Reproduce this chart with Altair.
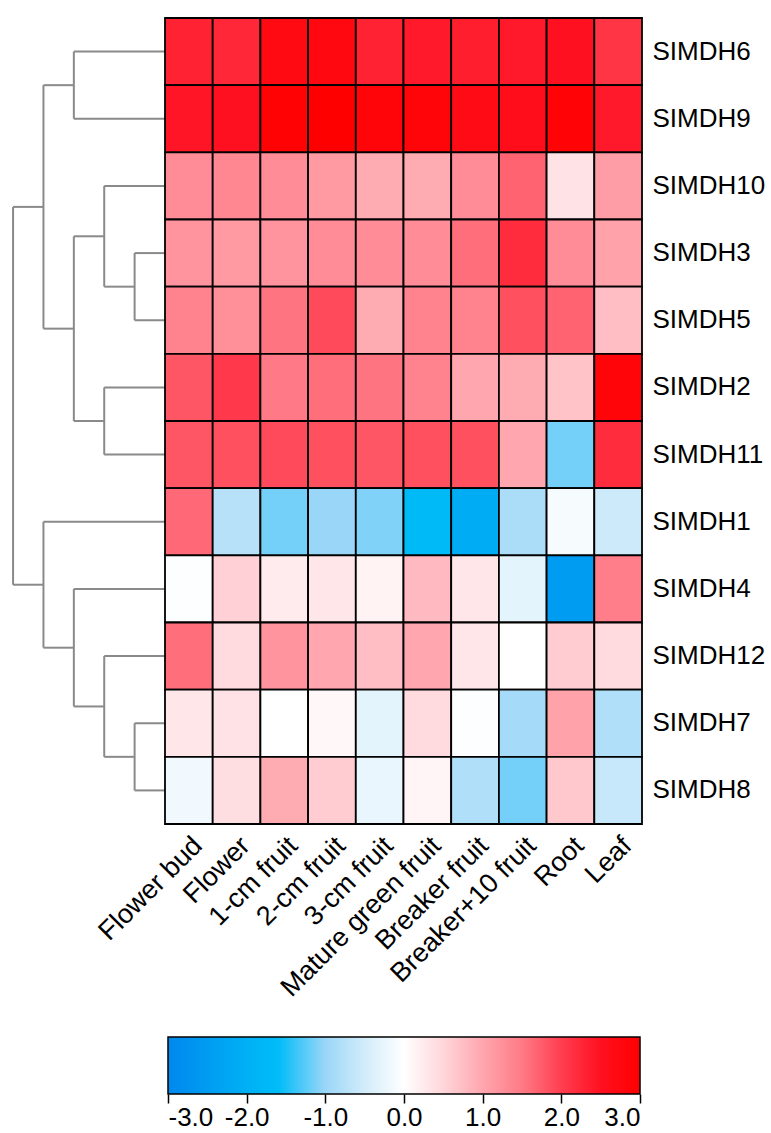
import altair as alt
import pandas as pd

genes = ["SIMDH6", "SIMDH9", "SIMDH10", "SIMDH3", "SIMDH5", "SIMDH2",
         "SIMDH11", "SIMDH1", "SIMDH4", "SIMDH12", "SIMDH7", "SIMDH8"]
tissues = ["Flower bud", "Flower", "1-cm fruit", "2-cm fruit", "3-cm fruit",
           "Mature green fruit", "Breaker fruit", "Breaker+10 fruit", "Root", "Leaf"]

v_SIMDH6 = [2.3, 2.25, 2.7, 2.75, 2.3, 2.4, 2.35, 2.4, 2.5, 2.1]
v_SIMDH9 = [2.45, 2.5, 2.95, 3.0, 2.85, 2.85, 2.65, 2.6, 2.9, 2.4]
v_SIMDH10 = [1.3, 1.35, 1.3, 1.15, 0.95, 0.95, 1.3, 1.7, 0.35, 1.1]
v_SIMDH3 = [1.2, 1.15, 1.2, 1.3, 1.3, 1.3, 1.6, 2.2, 1.3, 1.05]
v_SIMDH5 = [1.4, 1.25, 1.55, 1.9, 0.95, 1.4, 1.4, 1.85, 1.7, 0.75]
v_SIMDH2 = [1.8, 2.05, 1.5, 1.6, 1.55, 1.4, 1.0, 0.95, 0.7, 2.85]
v_SIMDH11 = [1.8, 1.85, 1.9, 1.85, 1.8, 1.85, 1.85, 1.0, -1.15, 2.2]
v_SIMDH1 = [1.65, -0.75, -1.15, -1.0, -1.1, -1.7, -2.1, -0.85, -0.1, -0.55]
v_SIMDH4 = [-0.03, 0.55, 0.25, 0.3, 0.15, 0.8, 0.3, -0.3, -2.5, 1.45]
v_SIMDH12 = [1.6, 0.45, 1.2, 1.0, 0.75, 1.0, 0.3, 0.0, 0.6, 0.45]
v_SIMDH7 = [0.3, 0.35, 0.0, 0.1, -0.3, 0.45, -0.03, -0.9, 1.05, -0.8]
v_SIMDH8 = [-0.15, 0.4, 0.95, 0.6, -0.25, 0.12, -0.8, -1.15, 0.65, -0.6]

gene_values = [v_SIMDH6, v_SIMDH9, v_SIMDH10, v_SIMDH3, v_SIMDH5, v_SIMDH2,
               v_SIMDH11, v_SIMDH1, v_SIMDH4, v_SIMDH12, v_SIMDH7, v_SIMDH8]

# dendrogram merges: node "mK" is the K-th merge (1-based)
merge_a = ["SIMDH7", "SIMDH3", "SIMDH10", "SIMDH2", "SIMDH12", "SIMDH6", "m3", "SIMDH4", "m6", "SIMDH1", "m9"]
merge_b = ["SIMDH8", "SIMDH5", "m2", "SIMDH11", "m1", "SIMDH9", "m4", "m5", "m7", "m8", "m10"]
merge_h = [1, 1, 2, 2, 2, 3, 3, 3, 4, 4, 5]

color_domain = [-3, -2, -1.6, -1, -0.5, 0, 0.5, 1, 1.5, 2, 2.5, 3]
color_range = ["#0088EE", "#00B0F5", "#00BCF8", "#9AD6F8", "#D2ECFA", "#FFFFFF",
               "#FFD6DA", "#FFA6AE", "#FF7A86", "#FF3E50", "#FF1020", "#FF0000"]
legend_ticks = [-3, -2, -1, 0, 1, 2, 3]

FONT = "Liberation Sans"

# heatmap table
rows = []
for g, vals in zip(genes, gene_values):
    for t, v in zip(tissues, vals):
        rows.append({"gene": g, "tissue": t, "value": v})
heat_df = pd.DataFrame(rows)

# dendrogram segments from tree structure
pos = {g: (0.0, i + 0.5) for i, g in enumerate(genes)}
segs = []
for k, (a, b, h) in enumerate(zip(merge_a, merge_b, merge_h)):
    xa, ya = pos[a]
    xb, yb = pos[b]
    segs.append({"x": xa, "x2": h, "y": ya, "y2": ya})
    segs.append({"x": xb, "x2": h, "y": yb, "y2": yb})
    segs.append({"x": h, "x2": h, "y": ya, "y2": yb})
    pos["m%d" % (k + 1)] = (h, (ya + yb) / 2)
seg_df = pd.DataFrame(segs)

color_scale = alt.Scale(domain=color_domain, range=color_range, interpolate="rgb", clamp=True)

no_view = alt.ViewBackground(stroke="transparent", strokeWidth=0)

heat = alt.Chart(heat_df).mark_rect(stroke="black", strokeWidth=1.8).encode(
    x=alt.X("tissue:N", sort=tissues,
            scale=alt.Scale(paddingInner=0, paddingOuter=0),
            axis=alt.Axis(title=None, labelAngle=-45, labelAlign="right", labelBaseline="top",
                          labelFontSize=27, labelFont=FONT, labelColor="black",
                          ticks=False, domain=False, labelPadding=8, labelOffset=0, labelLimit=400)),
    y=alt.Y("gene:N", sort=genes,
            scale=alt.Scale(paddingInner=0, paddingOuter=0),
            axis=alt.Axis(title=None, orient="right", labelFontSize=26, labelFont=FONT,
                          labelColor="black", ticks=False, domain=False, labelPadding=10)),
    color=alt.Color("value:Q", scale=color_scale, legend=None),
).properties(width=477, height=806, view=no_view)

dendro = alt.Chart(seg_df).mark_rule(color="#8a8a8a", strokeWidth=2).encode(
    x=alt.X("x:Q", scale=alt.Scale(domain=[0, 5.43], reverse=True, nice=False, zero=False), axis=None),
    x2="x2:Q",
    y=alt.Y("y:Q", scale=alt.Scale(domain=[0, 12], reverse=True, nice=False, zero=False), axis=None),
    y2="y2:Q",
).properties(width=165, height=806, view=no_view)

stops = [alt.GradientStop(color=c, offset=(d + 3) / 6) for d, c in zip(color_domain, color_range)]
cb_df = pd.DataFrame({"lo": [-3], "hi": [3], "r": ["bar"]})
colorbar = alt.Chart(cb_df).mark_rect(
    fill=alt.LinearGradient(gradient="linear", stops=stops, x1=0, x2=1, y1=0, y2=0),
    stroke="black", strokeWidth=1.5,
).encode(
    x=alt.X("lo:Q", scale=alt.Scale(domain=[-3, 3], nice=False, range=[3, 475]),
            axis=alt.Axis(values=legend_ticks, title=None, domain=False, tickSize=9, tickWidth=1.5,
                          tickColor="black", labelFontSize=26, labelFont=FONT, labelColor="black",
                          labelPadding=1, grid=False,
                          labelExpr="replace(format(datum.value, '.1f'), '\u2212', '-')")),
    x2="hi:Q",
    y=alt.Y("r:N", axis=None, scale=alt.Scale(paddingInner=0, paddingOuter=0)),
).properties(width=475, height=57, view=no_view)

right = alt.vconcat(heat, colorbar, spacing=213, bounds="flush")
chart = alt.hconcat(dendro, right, spacing=0, bounds="flush").properties(
    padding={"left": 0, "top": 17, "right": 0, "bottom": 0},
    background="white",
).configure_view(strokeWidth=0, stroke="transparent")

chart.save("out.html", embed_options={"renderer": "svg", "actions": False})
